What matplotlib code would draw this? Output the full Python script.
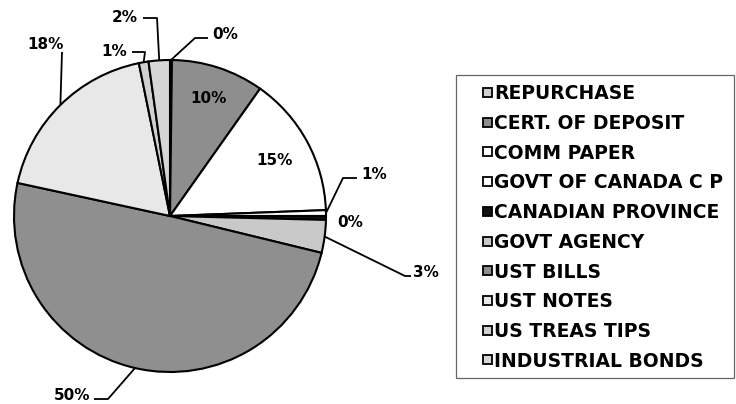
import matplotlib
matplotlib.use('Agg')
import matplotlib.pyplot as plt
import numpy as np
from matplotlib.patches import Rectangle

categories = ['REPURCHASE', 'CERT. OF DEPOSIT', 'COMM PAPER', 'GOVT OF CANADA C P',
              'CANADIAN PROVINCE', 'GOVT AGENCY', 'UST BILLS', 'UST NOTES',
              'US TREAS TIPS', 'INDUSTRIAL BONDS']
shares = [0.2, 9.6, 14.6, 0.6, 0.4, 3.4, 49.6, 18.4, 1.0, 2.2]
colors = ['#cfcfcf', '#8e8e8e', '#ffffff', '#ffffff', '#111111',
          '#c9c9c9', '#8f8f8f', '#e8e8e8', '#d0d0d0', '#d6d6d6']
pct_labels = [f"{round(v)}%" for v in shares]

FONT = 'DejaVu Sans'
W, H = 736, 404
fig = plt.figure(figsize=(W / 100, H / 100), dpi=100)
ax = fig.add_axes([0, 0, 1, 1])

cx, cy, R = 170, 216, 156
wedges, _ = ax.pie(shares, colors=colors, startangle=90, counterclock=False,
                   center=(cx, H - cy), radius=R,
                   wedgeprops=dict(edgecolor='black', linewidth=1.5))
ax.set_xlim(0, W)
ax.set_ylim(0, H)
ax.set_aspect('equal')
ax.axis('off')


def P(x, y):
    return (x, H - y)


def mid_point(i, frac):
    w = wedges[i]
    a = np.deg2rad((w.theta1 + w.theta2) / 2)
    return (w.center[0] + frac * w.r * np.cos(a), w.center[1] + frac * w.r * np.sin(a))


lab_fs = 11
lab_cap = 0.73 * lab_fs * 100 / 72

# inside labels
for i, frac in [(1, 0.80), (2, 0.76)]:
    x, y = mid_point(i, frac)
    ax.text(x, y - lab_cap / 2, pct_labels[i], ha='center', va='baseline',
            fontsize=lab_fs, fontweight='bold', family=FONT)

# outside labels with leader lines (positions in pixel space, top-down)
layout = {
    0: dict(path=[(195, 38), (208, 38)], text=(212, 33), ha='left'),
    3: dict(path=[(343, 178), (357, 178)], text=(361, 173), ha='left'),
    4: dict(path=None, text=(337, 221), ha='left'),
    5: dict(path=[(405, 276), (411, 276)], text=(413, 271), ha='left'),
    6: dict(path=[(108, 399), (94, 399)], text=(90, 394), ha='right'),
    7: dict(path=[(62, 52)], text=(64, 43), ha='right'),
    8: dict(path=[(145, 52), (132, 52)], text=(127, 50), ha='right'),
    9: dict(path=[(157, 18), (143, 18)], text=(138, 16), ha='right'),
}
for i, spec in layout.items():
    if spec['path']:
        ax0 = mid_point(i, 1.0)
        pts = [ax0] + [P(*p) for p in spec['path']]
        xs, ys = zip(*pts)
        ax.plot(xs, ys, color='black', lw=1.3, solid_capstyle='butt')
    tx, ty = P(*spec['text'])
    ax.text(tx, ty - lab_cap / 2, pct_labels[i], ha=spec['ha'], va='baseline',
            fontsize=lab_fs, fontweight='bold', family=FONT)

# legend box
bx0, by0, bx1, by1 = 456, 75, 734, 378
ax.add_patch(Rectangle(P(bx0, by1), bx1 - bx0, by1 - by0, facecolor='white',
                       edgecolor='#666666', lw=0.9))
leg_fs = 13.5
leg_cap = 0.73 * leg_fs * 100 / 72
row0, step = 92.5, 29.7
for k, (name, col) in enumerate(zip(categories, colors)):
    yc = row0 + k * step
    ax.add_patch(Rectangle(P(483, yc + 4.5), 9, 9, facecolor=col,
                           edgecolor='black', lw=1.3))
    x, y = P(494, yc)
    ax.text(x, y - leg_cap / 2, name, ha='left', va='baseline',
            fontsize=leg_fs, fontweight='bold', family=FONT)

fig.savefig('out.png', dpi=100)
